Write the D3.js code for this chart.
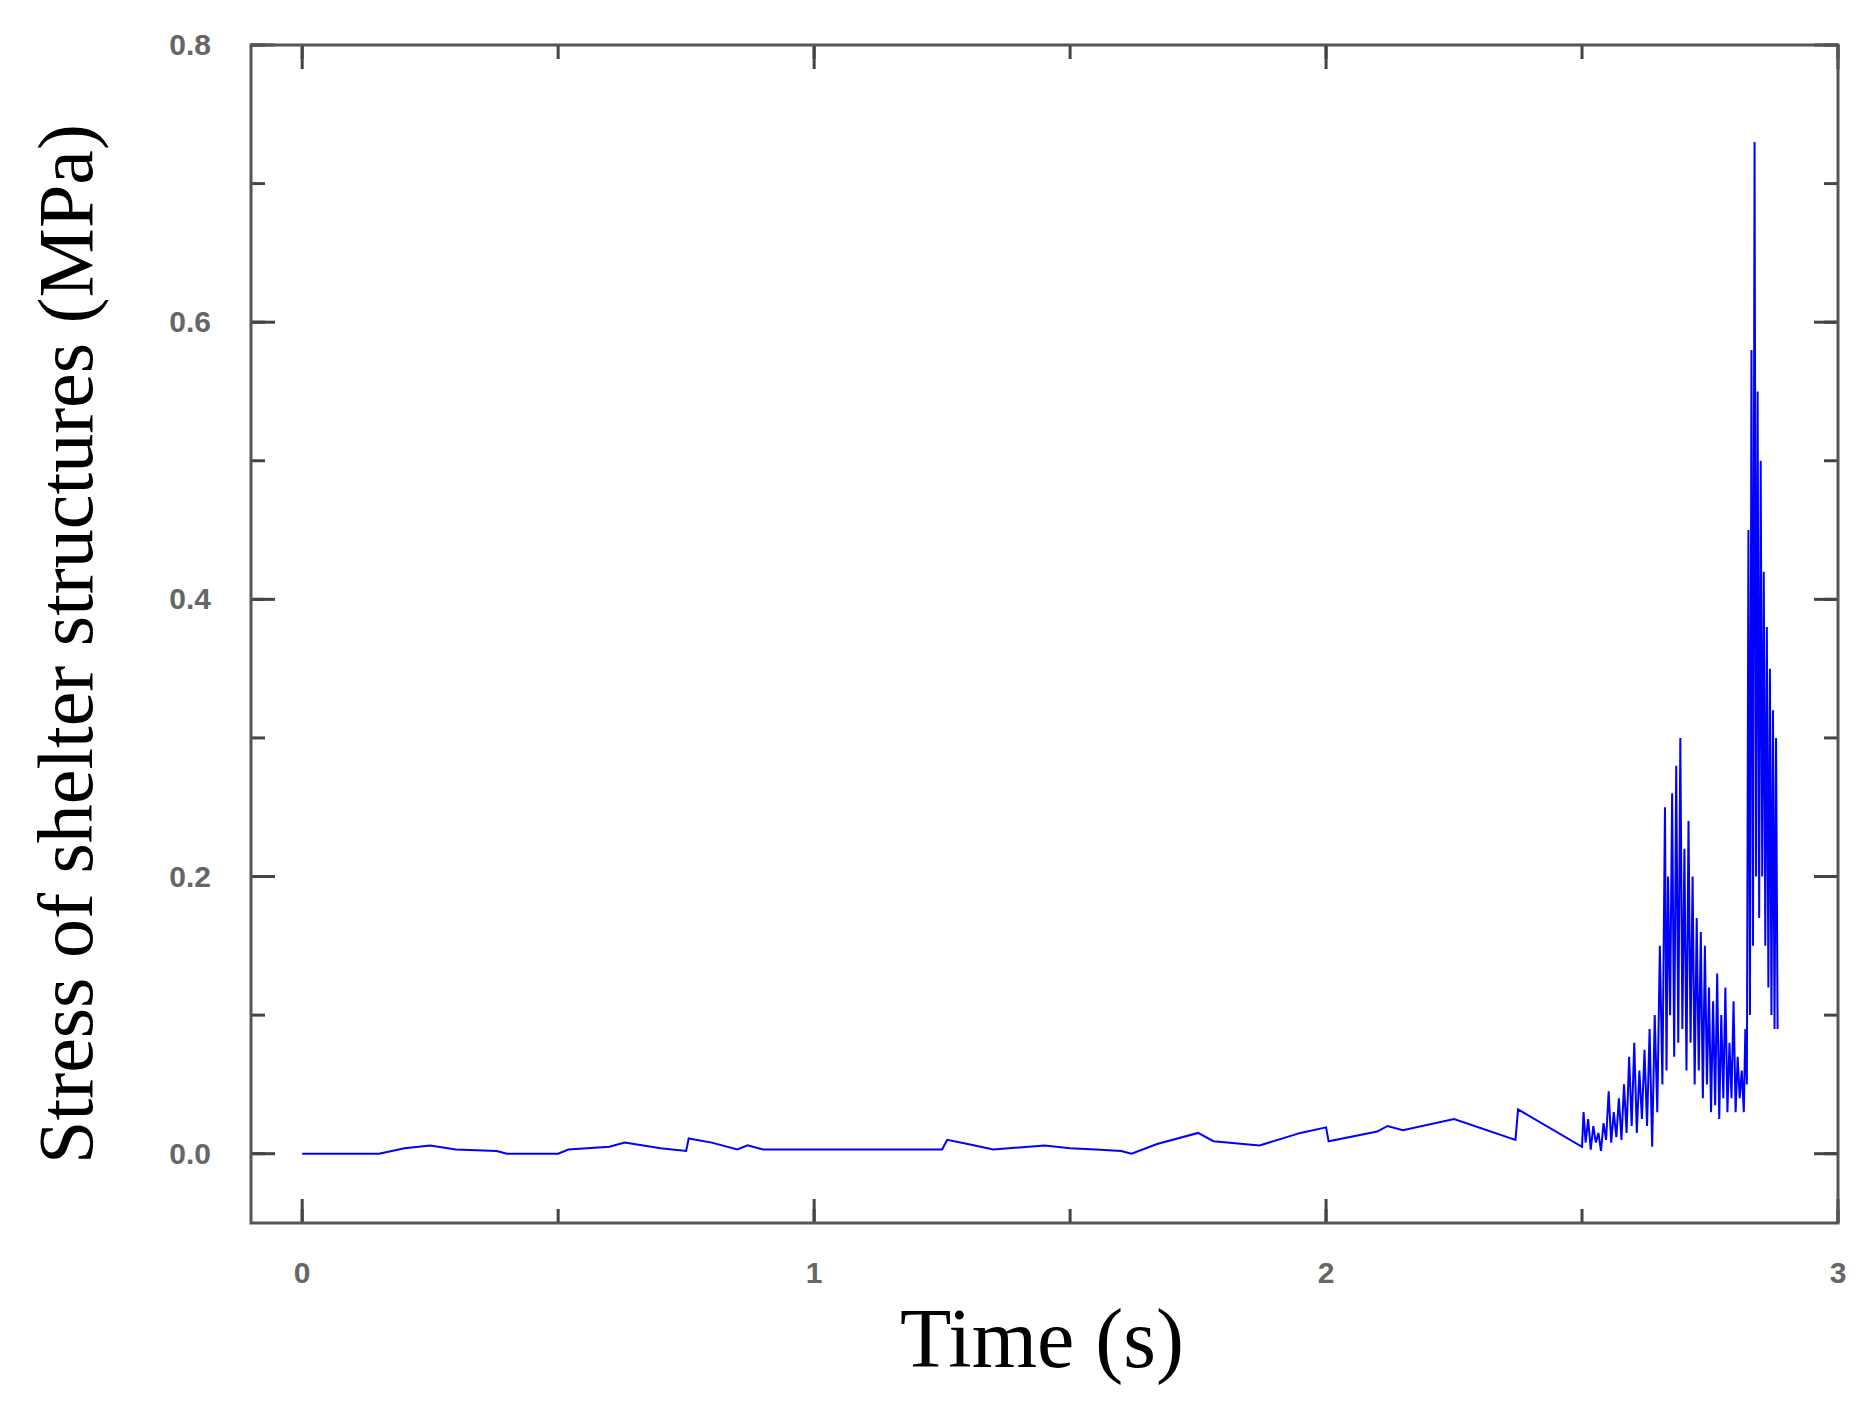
<!DOCTYPE html>
<html><head><meta charset="utf-8">
<script src="https://cdn.jsdelivr.net/npm/d3@7"></script>
<style>body{margin:0;background:#fff}</style>
</head><body>
<svg id="chart" width="1868" height="1407"></svg>
<script>
// time (s) and stress (MPa)
var time_calm = [0,0.15,0.2,0.25,0.3,0.38,0.4,0.5,0.52,0.6,0.63,0.7,0.75,0.755,0.8,0.85,0.87,0.9,1.0,1.25,1.26,1.3,1.35,1.45,1.5,1.55,1.6,1.62,1.67,1.75,1.78,1.87,1.95,2.0,2.005,2.1,2.12,2.15,2.25,2.37,2.375,2.5];
var stress_calm = [0,0,0.004,0.006,0.003,0.002,0,0,0.003,0.005,0.008,0.004,0.002,0.011,0.008,0.003,0.006,0.003,0.003,0.003,0.01,0.007,0.003,0.006,0.004,0.003,0.002,0,0.007,0.015,0.009,0.006,0.015,0.019,0.009,0.016,0.02,0.017,0.025,0.01,0.032,0.005];
var time_burst = [2.503,2.507,2.512,2.517,2.522,2.527,2.532,2.537,2.542,2.547,2.552,2.557,2.562,2.567,2.572,2.577,2.582,2.587,2.592,2.597,2.602,2.607,2.612,2.617,2.622,2.627,2.632,2.637,2.642,2.647,2.652,2.657,2.662,2.665,2.668,2.672,2.676,2.68,2.684,2.688,2.692,2.696,2.7,2.704,2.708,2.712,2.716,2.72,2.724,2.728,2.732,2.736,2.74,2.744,2.748,2.752,2.756,2.76,2.764,2.768,2.772,2.776,2.78,2.784,2.788,2.792,2.796,2.8,2.804,2.808,2.812,2.816,2.819,2.822,2.825,2.828,2.831,2.834,2.837,2.84,2.843,2.846,2.849,2.852,2.855,2.858,2.861,2.864,2.867,2.87,2.873,2.876,2.879,2.882];
var stress_burst = [0.03,0.008,0.025,0.003,0.02,0.008,0.015,0.002,0.022,0.01,0.045,0.008,0.03,0.012,0.04,0.01,0.05,0.015,0.07,0.02,0.08,0.015,0.06,0.025,0.075,0.02,0.09,0.005,0.1,0.03,0.15,0.05,0.25,0.06,0.2,0.1,0.26,0.07,0.28,0.08,0.3,0.09,0.22,0.06,0.24,0.08,0.2,0.05,0.17,0.06,0.16,0.04,0.15,0.05,0.12,0.03,0.11,0.035,0.13,0.025,0.1,0.04,0.12,0.03,0.08,0.04,0.11,0.03,0.07,0.04,0.06,0.03,0.09,0.05,0.45,0.1,0.58,0.15,0.73,0.2,0.55,0.17,0.5,0.2,0.42,0.15,0.38,0.12,0.35,0.1,0.32,0.09,0.3,0.09];
var x_ticks = [0,1,2,3];
var y_ticks = [0.0,0.2,0.4,0.6,0.8];

var times = time_calm.concat(time_burst);
var stress = stress_calm.concat(stress_burst);
var points = times.map(function(t, i) { return [t, stress[i]]; });

var svg = d3.select("#chart");
var pLeft = 251, pRight = 1838, pTop = 45, pBottom = 1223;
var x = d3.scaleLinear().domain([-0.1, 3]).range([pLeft, pRight]);
var y = d3.scaleLinear().domain([-0.05, 0.8]).range([pBottom, pTop]);

var minorX = d3.range(0, 3.01, 0.5), minorY = d3.range(0, 0.81, 0.1);
function tickSet(g, vals, scale, horizontal, major) {
    var len = major ? 24 : 14;
    vals.forEach(function(v) {
        var p = scale(v);
        if (horizontal) {
            g.append("line").attr("x1", p).attr("x2", p).attr("y1", pBottom).attr("y2", pBottom - len);
            g.append("line").attr("x1", p).attr("x2", p).attr("y1", pTop).attr("y2", pTop + len);
        } else {
            g.append("line").attr("y1", p).attr("y2", p).attr("x1", pLeft).attr("x2", pLeft + len);
            g.append("line").attr("y1", p).attr("y2", p).attr("x1", pRight).attr("x2", pRight - len);
        }
    });
}
var tg = svg.append("g").attr("stroke", "#444").attr("stroke-width", 3);
tickSet(tg, minorX, x, true, false);
tickSet(tg, x_ticks, x, true, true);
tickSet(tg, minorY, y, false, false);
tickSet(tg, y_ticks, y, false, true);

svg.append("path").datum(points)
    .attr("fill", "none").attr("stroke", "#0000ff").attr("stroke-width", 2)
    .attr("d", d3.line().x(function(d) { return x(d[0]); }).y(function(d) { return y(d[1]); }));

svg.append("rect").attr("x", pLeft).attr("y", pTop).attr("width", pRight - pLeft).attr("height", pBottom - pTop)
    .attr("fill", "none").attr("stroke", "#555").attr("stroke-width", 3);

svg.selectAll(".xl").data(x_ticks).enter().append("text")
    .attr("x", function(d) { return x(d); }).attr("y", pBottom + 60)
    .attr("text-anchor", "middle").attr("font-family", "Liberation Sans, Arial").attr("font-size", 30)
    .attr("font-weight", "bold").attr("fill", "#666").text(function(d) { return d; });
svg.selectAll(".yl").data(y_ticks).enter().append("text")
    .attr("x", pLeft - 40).attr("y", function(d) { return y(d) + 10; })
    .attr("text-anchor", "end").attr("font-family", "Liberation Sans, Arial").attr("font-size", 30)
    .attr("font-weight", "bold").attr("fill", "#666").text(function(d) { return d.toFixed(1); });

svg.append("text").attr("x", 1042).attr("y", 1367).attr("text-anchor", "middle")
    .attr("font-family", "Liberation Serif, Times New Roman").attr("font-size", 84).text("Time (s)");
svg.append("text").attr("transform", "translate(92," + ((pTop + pBottom) / 2 + 10) + ") rotate(-90)")
    .attr("text-anchor", "middle").attr("font-family", "Liberation Serif, Times New Roman")
    .attr("font-size", 78).text("Stress of shelter structures (MPa)");
</script>
</body></html>
